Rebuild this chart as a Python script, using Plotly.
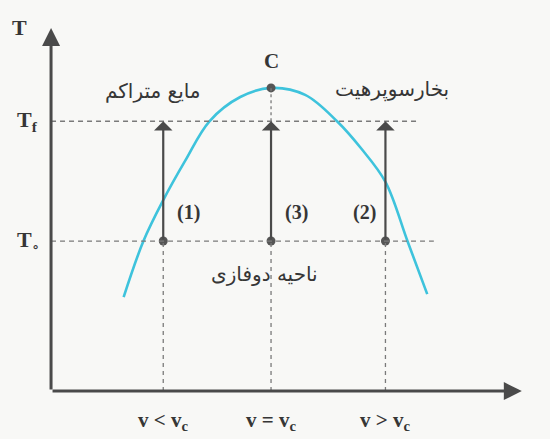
import plotly.graph_objects as go

# Saturation dome (T-v diagram), normalised so the critical point is v=1, T=1
dome_v = [0.33, 0.42, 0.51, 0.61, 0.72, 0.86, 1.00, 1.155, 1.30, 1.41, 1.52, 1.62, 1.71]
dome_T = [0.31, 0.495, 0.63, 0.76, 0.89, 0.97, 1.00, 0.977, 0.89, 0.80, 0.69, 0.495, 0.32]

# Heating processes at constant specific volume
process_v = [0.51, 1.00, 1.52]
process_names = ["(1)", "(3)", "(2)"]
process_v_labels = ["v < v<sub>c</sub>", "v = v<sub>c</sub>", "v > v<sub>c</sub>"]

T_start = 0.495   # T0
T_final = 0.89    # Tf
crit_v, crit_T = 1.00, 1.00

axis_v_end = 2.14
axis_T_end = 1.198

ink = "#4a4a4a"
txt = "#363636"
dash_col = "#7a7a7a"
serif = "Liberation Serif, DejaVu Serif, serif"
arabic = "DejaVu Sans, sans-serif"

fig = go.Figure()

# Dome curve
fig.add_trace(go.Scatter(
    x=dome_v, y=dome_T, mode="lines",
    line=dict(color="#3ec3dc", width=2.6, shape="spline", smoothing=1.0),
    hoverinfo="skip", showlegend=False))

shapes = []
# Horizontal dashed guides at Tf and T0
shapes.append(dict(type="line", x0=0, x1=1.66, y0=T_final, y1=T_final,
                   line=dict(color=dash_col, width=1.3, dash="5px,4px")))
shapes.append(dict(type="line", x0=0, x1=1.74, y0=T_start, y1=T_start,
                   line=dict(color=dash_col, width=1.3, dash="5px,4px")))
# Vertical dashed guides down to the v axis
for v in process_v:
    shapes.append(dict(type="line", x0=v, x1=v, y0=0, y1=T_start,
                       line=dict(color=dash_col, width=1.3, dash="4px,4px")))
# Dashed segment from the critical point to Tf
shapes.append(dict(type="line", x0=crit_v, x1=crit_v, y0=T_final, y1=crit_T,
                   line=dict(color=dash_col, width=1.3, dash="3px,3px")))

annotations = []
# Coordinate axes with arrowheads
annotations.append(dict(x=0, y=axis_T_end, ax=0, ay=0, xref="x", yref="y",
                        axref="x", ayref="y", showarrow=True, arrowhead=2,
                        arrowsize=1.2, arrowwidth=3, arrowcolor=ink, text=""))
annotations.append(dict(x=axis_v_end, y=0, ax=0, ay=0, xref="x", yref="y",
                        axref="x", ayref="y", showarrow=True, arrowhead=2,
                        arrowsize=1.2, arrowwidth=3, arrowcolor=ink, text=""))
# Process arrows from T0 up to Tf
for v in process_v:
    annotations.append(dict(x=v, y=T_final, ax=v, ay=T_start, xref="x", yref="y",
                            axref="x", ayref="y", showarrow=True, arrowhead=1,
                            arrowsize=1.4, arrowwidth=2.2, arrowcolor=ink, text=""))

# Process numbers
for v, name in zip(process_v, process_names):
    dx = -0.095 if name == "(2)" else 0.115
    annotations.append(dict(x=v + dx, y=T_start + 0.095, text="<b>" + name + "</b>",
                            showarrow=False,
                            font=dict(family=serif, size=20, color=txt)))

# Labels under the v axis
for v, lab in zip(process_v, process_v_labels):
    annotations.append(dict(x=v, y=-0.1, text="<b>" + lab + "</b>", showarrow=False,
                            font=dict(family=serif, size=21, color=txt)))

# Axis names and temperature levels
annotations += [
    dict(x=-0.145, y=1.20, text="<b>T</b>", showarrow=False,
         font=dict(family=serif, size=22, color=txt)),
    dict(x=2.31, y=0.0, text="<b>v</b>", showarrow=False, xanchor="center",
         font=dict(family=serif, size=22, color=txt)),
    dict(x=-0.105, y=T_final, text="<b>T<sub>f</sub></b>", showarrow=False,
         font=dict(family=serif, size=22, color=txt)),
    dict(x=-0.105, y=T_start, text="<b>T</b><sub>∘</sub>", showarrow=False,
         font=dict(family=serif, size=22, color=txt)),
    dict(x=crit_v, y=1.09, text="<b>C</b>", showarrow=False,
         font=dict(family=serif, size=21, color=txt)),
    dict(x=0.465, y=0.99, text="مایع متراکم", showarrow=False,
         font=dict(family=arabic, size=20, color=txt)),
    dict(x=1.55, y=0.995, text="بخارسوپرهیت", showarrow=False,
         font=dict(family=arabic, size=20, color=txt)),
    dict(x=0.97, y=0.385, text="ناحیه دوفازی", showarrow=False,
         font=dict(family=arabic, size=20, color=txt)),
]

# State points
fig.add_trace(go.Scatter(
    x=process_v + [crit_v], y=[T_start] * len(process_v) + [crit_T],
    mode="markers", marker=dict(color="#555555", size=9),
    hoverinfo="skip", showlegend=False))

fig.update_layout(
    width=550, height=439,
    margin=dict(l=0, r=0, t=0, b=0),
    paper_bgcolor="#f8f8f6", plot_bgcolor="#f8f8f6",
    xaxis=dict(range=[-0.232, 2.268], visible=False, fixedrange=True),
    yaxis=dict(range=[-0.158, 1.29], visible=False, fixedrange=True),
    shapes=shapes, annotations=annotations,
)

fig.write_html("out.html")
